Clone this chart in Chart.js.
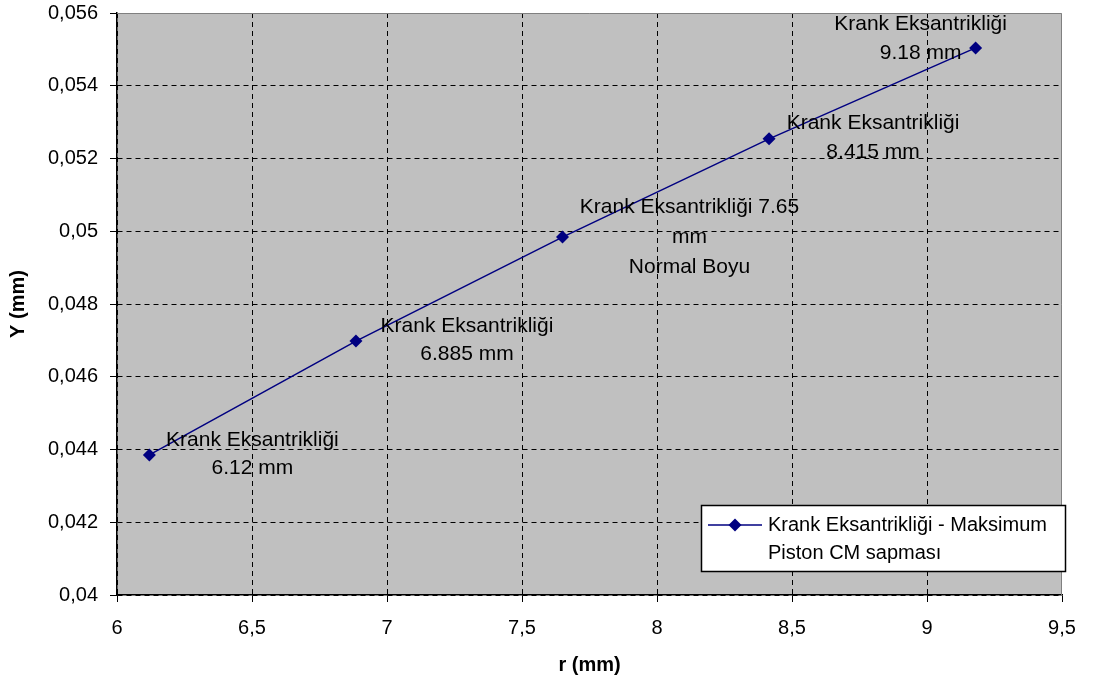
<!DOCTYPE html>
<html>
<head>
<meta charset="utf-8">
<script src="https://cdn.jsdelivr.net/npm/chart.js@4.4.1/dist/chart.umd.min.js"></script>
<style>
  html, body { margin: 0; padding: 0; background: #ffffff; }
  #wrap { width: 1100px; height: 690px; }
</style>
</head>
<body>
<div id="wrap"><canvas id="c" width="1100" height="690"></canvas></div>
<script>
// ---- data ----
const rValues = [6.12, 6.885, 7.65, 8.415, 9.18];
const yValues = [0.04385, 0.04698, 0.04984, 0.05254, 0.05504];
const pointLabels = [
  ["Krank Eksantrikliği", "6.12 mm"],
  ["Krank Eksantrikliği", "6.885 mm"],
  ["Krank Eksantrikliği 7.65", "mm", "Normal Boyu"],
  ["Krank Eksantrikliği", "8.415 mm"],
  ["Krank Eksantrikliği", "9.18 mm"]
];
const seriesName = ["Krank Eksantrikliği - Maksimum", "Piston CM sapması"];
const xAxisTitle = "r (mm)";
const yAxisTitle = "Y (mm)";
const xMin = 6, xMax = 9.5, xStep = 0.5;
const yMin = 0.04, yMax = 0.056, yStep = 0.002;

// ---- styling / layout (not data) ----
const FONT = "'Liberation Sans', Arial, sans-serif";
const NAVY = '#000080';
const labelOffsets = [
  { dx: 103, dy: -15, lh: 28 },
  { dx: 111, dy: -15, lh: 28 },
  { dx: 127, dy: -30, lh: 30 },
  { dx: 104, dy: -16, lh: 29 },
  { dx: -55, dy: -24, lh: 29 }
];

function fmt(v) {
  return String(Number(v.toFixed(4))).replace('.', ',');
}

const points = rValues.map((x, i) => ({ x: x, y: yValues[i] }));

const bgPlugin = {
  id: 'plotBg',
  beforeDraw(chart) {
    const { ctx, chartArea: a } = chart;
    ctx.save();
    ctx.fillStyle = '#ffffff';
    ctx.fillRect(0, 0, chart.width, chart.height);
    ctx.fillStyle = '#c0c0c0';
    ctx.fillRect(a.left, a.top, a.right - a.left, a.bottom - a.top);
    ctx.restore();
  },
  beforeDatasetsDraw(chart) {
    const { ctx, chartArea: a } = chart;
    ctx.save();
    ctx.strokeStyle = '#808080';
    ctx.lineWidth = 1;
    ctx.beginPath();
    ctx.moveTo(a.left, a.top + 0.5);
    ctx.lineTo(a.right - 0.5, a.top + 0.5);
    ctx.lineTo(a.right - 0.5, a.bottom);
    ctx.stroke();
    ctx.restore();
  }
};

const labelPlugin = {
  id: 'pointText',
  afterDatasetsDraw(chart) {
    const { ctx } = chart;
    const meta = chart.getDatasetMeta(0);
    ctx.save();
    ctx.font = '21px ' + FONT;
    ctx.fillStyle = '#000000';
    ctx.textAlign = 'center';
    ctx.textBaseline = 'middle';
    meta.data.forEach((el, i) => {
      const o = labelOffsets[i];
      pointLabels[i].forEach((line, j) => {
        ctx.fillText(line, el.x + o.dx, el.y + o.dy + j * o.lh);
      });
    });
    ctx.restore();
  }
};

const legendPlugin = {
  id: 'boxLegend',
  afterDraw(chart) {
    const { ctx } = chart;
    const bx = 701.5, by = 505.5, bw = 364, bh = 66;
    ctx.save();
    ctx.fillStyle = '#ffffff';
    ctx.fillRect(bx, by, bw, bh);
    ctx.strokeStyle = '#000000';
    ctx.lineWidth = 1.5;
    ctx.strokeRect(bx, by, bw, bh);
    const ly = 525;
    ctx.strokeStyle = NAVY;
    ctx.lineWidth = 1.5;
    ctx.beginPath();
    ctx.moveTo(708, ly);
    ctx.lineTo(762, ly);
    ctx.stroke();
    ctx.fillStyle = NAVY;
    ctx.beginPath();
    ctx.moveTo(735 - 6.5, ly);
    ctx.lineTo(735, ly - 6.5);
    ctx.lineTo(735 + 6.5, ly);
    ctx.lineTo(735, ly + 6.5);
    ctx.closePath();
    ctx.fill();
    ctx.fillStyle = '#000000';
    ctx.font = '20px ' + FONT;
    ctx.textAlign = 'left';
    ctx.textBaseline = 'middle';
    ctx.fillText(seriesName[0], 768, ly);
    ctx.fillText(seriesName[1], 768, ly + 28);
    ctx.restore();
  }
};

const hideMaxGrid = (max) => (c) => (c.tick && Math.abs(c.tick.value - max) < 1e-9) ? 'rgba(0,0,0,0)' : '#000000';

new Chart(document.getElementById('c'), {
  type: 'scatter',
  data: {
    datasets: [{
      label: seriesName.join(' '),
      data: points,
      showLine: true,
      borderColor: NAVY,
      borderWidth: 1.5,
      backgroundColor: NAVY,
      pointStyle: 'rectRot',
      pointRadius: 6.5,
      pointHoverRadius: 6.5,
      pointBorderWidth: 0,
      tension: 0
    }]
  },
  options: {
    responsive: false,
    devicePixelRatio: 1,
    animation: false,
    layout: { padding: { top: 13, right: 38, left: 0, bottom: 0 } },
    plugins: {
      legend: { display: false },
      tooltip: { enabled: false }
    },
    scales: {
      x: {
        type: 'linear',
        min: xMin, max: xMax,
        ticks: {
          stepSize: xStep,
          color: '#000000',
          font: { family: FONT, size: 20 },
          padding: 14,
          maxRotation: 0,
          callback: (v) => fmt(v)
        },
        grid: {
          color: hideMaxGrid(xMax),
          lineWidth: 1,
          tickColor: '#000000',
          tickLength: 7,
          drawTicks: true
        },
        border: { display: true, color: '#000000', width: 1.5, dash: [5, 4] },
        title: {
          display: true,
          text: xAxisTitle,
          color: '#000000',
          font: { family: FONT, size: 20, weight: 'bold' },
          padding: { top: 0, bottom: 13 }
        },
        afterFit: (s) => { s.height = 95; s.paddingLeft = 0; s.paddingRight = 0; }
      },
      y: {
        type: 'linear',
        min: yMin, max: yMax,
        ticks: {
          stepSize: yStep,
          color: '#000000',
          font: { family: FONT, size: 20 },
          padding: 12,
          callback: (v) => fmt(v)
        },
        grid: {
          color: hideMaxGrid(yMax),
          lineWidth: 1,
          tickColor: '#000000',
          tickLength: 7,
          drawTicks: true
        },
        border: { display: true, color: '#000000', width: 1.5, dash: [5, 4] },
        title: {
          display: true,
          text: yAxisTitle,
          color: '#000000',
          font: { family: FONT, size: 20, weight: 'bold' },
          padding: { top: 6, bottom: 0 }
        },
        afterFit: (s) => { s.width = 117; s.paddingTop = 0; s.paddingBottom = 0; }
      }
    }
  },
  plugins: [bgPlugin, labelPlugin, legendPlugin]
});
</script>
</body>
</html>
